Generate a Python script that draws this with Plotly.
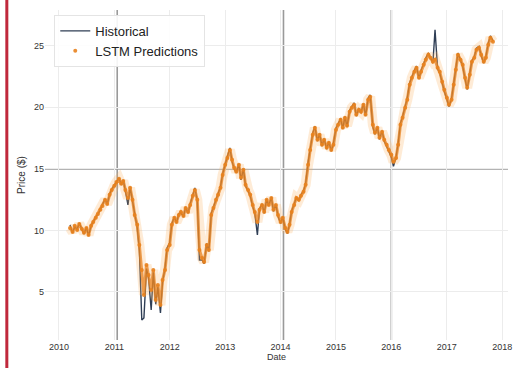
import pandas as pd
import plotly.graph_objects as go

# Semi-monthly observation dates (1st and 15th of each month)
dates = pd.date_range("2010-03-15", periods=208, freq="SMS")

# LSTM predicted price per date
predicted = [
    # 2010
    10.20, 9.88, 10.37, 10.04, 10.53, 10.12, 9.80, 10.20, 9.63, 10.37,
    10.69, 11.02, 11.34, 11.67, 11.99, 12.48, 12.15, 12.89, 13.29,
    # 2011
    13.62, 13.94, 14.19, 13.78, 14.02, 13.29, 12.64, 13.46, 12.48, 11.26,
    10.45, 8.82, 6.79, 4.76, 7.20, 6.38, 5.16, 6.79, 4.35, 5.57,
    3.94, 5.98, 6.79, 8.41,
    # 2012
    8.82, 10.45, 11.02, 10.69, 11.26, 11.50, 11.18, 11.83, 11.50, 12.07,
    12.81, 13.29, 12.48, 8.41, 7.76, 7.44, 8.82, 8.41, 11.26, 11.83,
    12.48, 12.89, 13.46, 14.51,
    # 2013
    15.33, 15.89, 16.54, 15.73, 15.08, 14.76, 15.33, 14.27, 14.92, 13.70,
    13.29, 12.89, 12.07, 11.50, 10.69, 11.67, 12.07, 11.50, 12.48, 12.07,
    12.64, 11.67, 12.07, 11.26,
    # 2014
    10.69, 11.02, 10.20, 9.88, 10.45, 11.50, 12.07, 12.64, 12.48, 12.81,
    13.13, 13.70, 15.33, 16.54, 17.76, 18.33, 17.36, 17.76, 16.95, 17.36,
    16.71, 17.11, 16.54, 16.95,
    # 2015
    18.17, 18.58, 18.98, 18.33, 19.15, 18.50, 19.63, 19.96, 20.20, 19.39,
    19.80, 19.63, 20.20, 19.39, 20.61, 20.85, 18.58, 17.93, 18.33, 17.52,
    18.01, 17.36, 16.95, 16.54,
    # 2016
    16.14, 15.57, 15.89, 16.95, 18.58, 19.15, 19.96, 20.61, 21.83, 22.40,
    22.89, 23.21, 22.40, 22.89, 23.46, 23.86, 24.27, 24.02, 23.70, 23.86,
    23.21, 22.89, 22.07, 21.42,
    # 2017
    20.77, 20.20, 20.61, 21.83, 23.05, 24.27, 23.86, 23.46, 22.40, 21.59,
    22.64, 23.70, 24.02, 24.67, 24.84, 24.27, 23.70, 24.02, 25.08, 25.65,
    25.33,
]

# Historical (actual) price per date
historical = [
    # 2010
    10.45, 9.80, 10.30, 10.10, 10.60, 10.05, 9.70, 10.25, 9.55, 10.40,
    10.75, 11.10, 11.30, 11.75, 12.05, 12.55, 12.10, 12.95, 13.35,
    # 2011
    13.70, 14.00, 14.25, 13.70, 14.10, 13.20, 12.07, 13.50, 12.40, 11.10,
    10.20, 8.40, 2.72, 2.89, 6.90, 6.10, 3.54, 6.60, 4.00, 5.40,
    3.30, 5.80, 6.95, 8.60,
    # 2012
    9.00, 10.55, 11.10, 10.60, 11.35, 11.45, 11.10, 11.90, 11.40, 12.15,
    12.90, 13.45, 12.40, 7.60, 7.60, 7.30, 8.95, 8.30, 11.40, 11.90,
    12.55, 12.95, 13.55, 14.60,
    # 2013
    15.45, 16.00, 16.70, 15.60, 15.00, 14.70, 15.40, 14.10, 15.00, 13.60,
    13.20, 12.80, 11.95, 11.40, 9.63, 11.75, 12.15, 11.40, 12.55, 12.00,
    12.70, 11.55, 12.10, 11.15,
    # 2014
    10.55, 11.10, 10.10, 9.75, 10.50, 11.60, 12.15, 12.70, 12.40, 12.90,
    13.20, 13.80, 15.50, 16.70, 17.90, 18.45, 17.25, 17.85, 16.85, 17.45,
    16.60, 17.20, 16.45, 17.05,
    # 2015
    18.30, 18.65, 19.10, 18.25, 19.25, 18.40, 19.75, 20.05, 20.35, 19.30,
    19.90, 19.55, 20.30, 19.30, 20.75, 21.00, 18.40, 17.80, 18.40, 17.40,
    18.10, 17.25, 16.85, 16.40,
    # 2016
    15.95, 15.20, 15.95, 17.10, 18.70, 19.25, 20.10, 20.75, 22.00, 22.50,
    23.00, 23.35, 22.30, 23.00, 23.60, 24.00, 24.40, 23.95, 23.60, 26.30,
    23.10, 22.80, 21.95, 21.30,
    # 2017
    20.65, 20.05, 20.70, 21.95, 23.20, 24.40, 23.80, 23.35, 22.30, 21.45,
    22.75, 23.80, 24.10, 24.80, 24.95, 24.20, 23.60, 24.10, 25.20, 25.80,
    25.40,
]

y_ticks = [5, 10, 15, 20, 25]
year_ticks = [f"{y}-01-01" for y in range(2010, 2019)]
x_range = ["2009-10-01", "2018-02-08"]
y_range = [1.1, 27.9]

# Reference lines emphasised over the regular grid
ref_dates = ["2011-01-20", "2014-01-20", "2016-01-01"]
ref_level = 15

navy = "#2f3e55"
orange = "#e8821e"

fig = go.Figure()

fig.add_trace(go.Scatter(
    x=dates, y=historical, mode="lines", name="Historical",
    line=dict(color=navy, width=1.4),
))
# soft halo and body under the prediction points
fig.add_trace(go.Scatter(
    x=dates, y=predicted, mode="lines", showlegend=False, hoverinfo="skip",
    line=dict(color="rgba(252,175,90,0.25)", width=10),
))
fig.add_trace(go.Scatter(
    x=dates, y=predicted, mode="lines", showlegend=False, hoverinfo="skip",
    line=dict(color="rgba(232,130,30,0.75)", width=3),
))
fig.add_trace(go.Scatter(
    x=dates, y=predicted, mode="markers", name="LSTM Predictions",
    marker=dict(color=orange, size=4, opacity=0.9),
))

shapes = []
for d in ref_dates:
    shapes.append(dict(type="line", xref="x", yref="paper", x0=d, x1=d, y0=0, y1=1,
                       line=dict(color="#9a9a9a", width=1.6), layer="below"))
shapes.append(dict(type="line", xref="paper", yref="y", x0=0, x1=1, y0=ref_level, y1=ref_level,
                   line=dict(color="#9a9a9a", width=1.6), layer="below"))
# red accent strip on the left edge
shapes.append(dict(type="rect", xref="paper", yref="paper", x0=-0.0857, x1=-0.0792,
                   y0=-0.09, y1=1.04, fillcolor="#c0283c", line=dict(width=0)))

fig.update_layout(
    width=518, height=368,
    margin=dict(l=45, r=6, t=10, b=28),
    paper_bgcolor="white", plot_bgcolor="white",
    font=dict(family="Liberation Sans, Arial, sans-serif", color="#333333", size=9),
    shapes=shapes,
    showlegend=True,
    legend=dict(x=0.02, y=0.985, xanchor="left", yanchor="top",
                bgcolor="rgba(255,255,255,0.9)", bordercolor="#e4e4e4", borderwidth=1,
                font=dict(size=13, color="#222222")),
    xaxis=dict(
        range=x_range, tickvals=year_ticks, ticktext=[y[:4] for y in year_ticks],
        showgrid=True, gridcolor="#ececec", gridwidth=1, zeroline=False,
        showline=False, ticks="", tickfont=dict(size=9),
        title=dict(text="Date", font=dict(size=9), standoff=2),
    ),
    yaxis=dict(
        range=y_range, tickvals=y_ticks,
        showgrid=True, gridcolor="#ececec", gridwidth=1, zeroline=False,
        showline=False, ticks="", tickfont=dict(size=9),
        title=dict(text="Price ($)", font=dict(size=10), standoff=6),
    ),
)

fig.write_html("out.html")
